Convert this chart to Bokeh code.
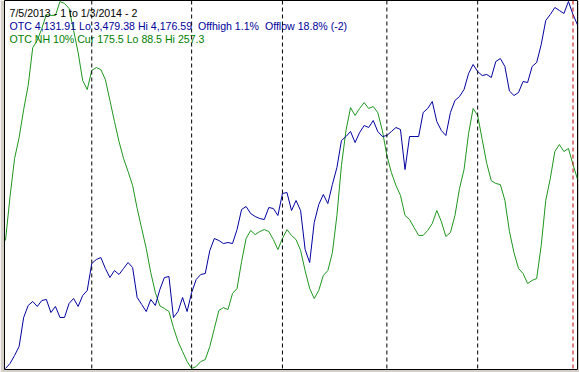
from bokeh.plotting import figure
from bokeh.models import Range1d, ColumnDataSource, Span
from bokeh.embed import file_html
from bokeh.resources import INLINE
from bokeh.core.properties import value

# OTC (Nasdaq composite) daily closes, 7/5/2013 .. 1/3/2014
otc = [3479.38, 3488.9, 3504.1, 3521.2, 3576.3, 3599.1, 3606.7, 3597.2, 3608.6, 3610.5,
       3585.7, 3597.2, 3576.3, 3576.3, 3602.9, 3612.4, 3597.2, 3618.0, 3627.5, 3678.8,
       3686.4, 3690.2, 3669.3, 3652.2, 3665.5, 3657.9, 3669.3, 3680.7, 3671.2, 3614.3,
       3601.0, 3587.6, 3610.5, 3599.1, 3629.4, 3652.2, 3654.1, 3576.3, 3587.6, 3614.3,
       3587.6, 3623.7, 3648.4, 3657.9, 3659.8, 3703.5, 3726.3, 3722.5, 3716.8, 3718.7,
       3716.8, 3743.4, 3781.4, 3787.1, 3773.8, 3768.1, 3764.3, 3762.4, 3785.2, 3783.3,
       3770.0, 3811.8, 3813.7, 3779.5, 3798.5, 3779.5, 3705.4, 3680.7, 3756.7, 3790.9,
       3809.9, 3792.8, 3828.9, 3861.2, 3912.5, 3920.1, 3929.6, 3908.7, 3927.7, 3941.0,
       3937.2, 3950.5, 3929.6, 3920.1, 3922.0, 3929.6, 3937.2, 3933.4, 3857.4, 3920.1,
       3920.1, 3920.1, 3965.7, 3973.3, 3986.6, 3948.6, 3931.5, 3922.0, 3965.7, 3988.5,
       3996.1, 4009.4, 4039.8, 4056.9, 4043.6, 4036.0, 4037.9, 4032.2, 4062.6, 4068.3,
       4053.1, 4006.4, 3998.0, 4003.7, 4024.6, 4022.7, 4053.1, 4060.7, 4094.9, 4140.5,
       4151.9, 4165.2, 4159.5, 4153.8, 4176.59, 4151.9, 4131.91]

# OTC new highs, 10% indicator
nh = [147.4, 167.6, 185.1, 194.7, 207.6, 218.7, 236.1, 239.4, 244.9, 251.3,
      250.9, 250.9, 257.3, 256.4, 254.1, 244.0, 233.8, 221.0, 216.8, 225.6,
      226.9, 226.0, 221.4, 211.8, 202.1, 192.9, 185.1, 179.1, 172.7, 162.1,
      152.9, 143.7, 132.6, 123.5, 117.3, 116.1, 114.7, 107.3, 100.9, 96.3,
      91.7, 88.5, 89.4, 91.7, 92.6, 98.6, 106.9, 115.2, 116.5, 115.6,
      123.0, 125.3, 137.7, 148.3, 152.0, 150.1, 151.5, 152.4, 151.5, 147.8,
      143.2, 148.3, 152.4, 149.7, 147.8, 142.8, 133.5, 125.3, 120.7, 124.4,
      131.3, 133.5, 141.8, 158.9, 181.9, 198.0, 208.5, 204.9, 208.1, 210.8,
      208.1, 209.0, 206.2, 198.0, 186.5, 178.6, 172.7, 168.1, 158.9, 157.0,
      153.3, 149.7, 149.7, 152.0, 155.2, 161.2, 156.1, 149.2, 151.0, 158.9,
      171.3, 180.0, 196.6, 208.1, 204.9, 193.8, 182.8, 174.9, 173.6, 173.1,
      165.8, 151.5, 141.8, 134.5, 132.2, 127.6, 129.0, 129.9, 145.1, 165.8,
      175.9, 188.3, 191.5, 188.3, 189.7, 182.3, 175.5]

# trading-day index of each month's first session (Aug..Jan)
month_start_idx = [19, 41, 61, 84, 104, 125]
month_is_new_year = [False, False, False, False, False, True]

title_text = "7/5/2013 - 1 to 1/3/2014 - 2"
otc_text = "OTC 4,131.91 Lo 3,479.38 Hi 4,176.59\u00a0 Offhigh 1.1%\u00a0 Offlow 18.8% (-2)"
nh_text = "OTC NH 10% Cur 175.5 Lo 88.5 Hi 257.3"

BLUE = "#0000a0"
GREEN = "#1e961e"
GREEN_TXT = "#008000"
BLUE_TXT = "#00009c"

W, H = 579, 372
L, R, T, B = 4, 2, 0, 3
fw, fh = W - L - R, H - T - B

otc_lo, otc_hi = min(otc), max(otc)
nh_lo, nh_hi = min(nh), max(nh)
n = len(otc)
px_per = 4.54
x0 = -(1.0 / px_per)
x1 = x0 + fw / px_per

def padded(lo, hi):
    per = (hi - lo) / (fh - 2)
    return Range1d(lo - per, hi + per)

p = figure(width=W, height=H, output_backend="svg", toolbar_location=None,
           x_range=Range1d(x0, x1), y_range=padded(otc_lo, otc_hi),
           x_axis_location=None, y_axis_location=None,
           min_border_left=L, min_border_right=R, min_border_top=T, min_border_bottom=B)
p.extra_y_ranges = {"nh": padded(nh_lo, nh_hi), "py": Range1d(fh, 0)}
p.extra_x_ranges = {"px": Range1d(0, fw)}
p.grid.visible = False
p.background_fill_color = "white"
p.border_fill_color = "#d4d0c8"
p.outline_line_color = "black"
p.outline_line_width = 1

for idx, newyear in zip(month_start_idx, month_is_new_year):
    p.add_layout(Span(location=idx, dimension="height",
                      line_color="#c00000" if newyear else "black",
                      line_dash="4 3", line_width=1))

xs = list(range(n))
p.line(xs, nh, line_color=GREEN, line_width=1.0, y_range_name="nh")
p.line(xs, otc, line_color=BLUE, line_width=1.0)

src = ColumnDataSource(dict(x=[5, 5, 5], y=[12, 25, 38],
                            t=[title_text, otc_text, nh_text],
                            c=["black", BLUE_TXT, GREEN_TXT]))
p.text(x="x", y="y", text="t", text_color="c", source=src,
       x_range_name="px", y_range_name="py",
       text_font=value("Liberation Sans"), text_font_size="10.6px",
       text_baseline="alphabetic", text_align="left")

open("out.html", "w").write(file_html(p, INLINE))
